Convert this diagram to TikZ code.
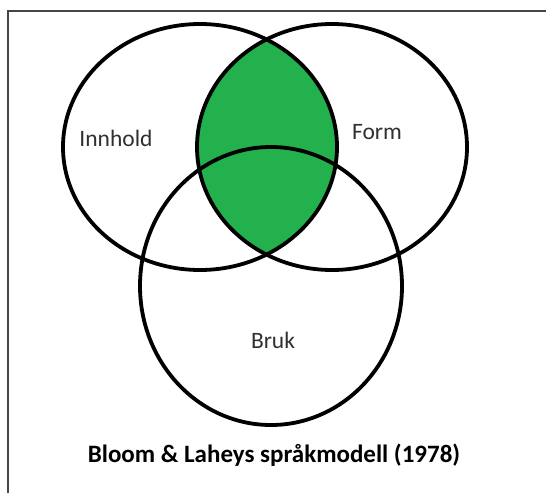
\documentclass[tikz,border=0pt]{standalone}
\usepackage{fontspec}
\setmainfont{Carlito}
\definecolor{paintgreen}{HTML}{22B14C}
\definecolor{framegray}{HTML}{464646}
\definecolor{labelgray}{HTML}{303030}
\begin{document}
\begin{tikzpicture}[x=1pt,y=-1pt,
  ring/.style={draw=black,line width=3.8pt},
  lbl/.style={text=labelgray,font=\fontsize{23.5}{28}\selectfont,inner sep=0pt},
  ttl/.style={text=black,font=\bfseries\fontsize{25}{30}\selectfont,inner sep=0pt}]
\useasboundingbox (0,0) rectangle (546,493);
\fill[white] (0,0) rectangle (546,493);
\draw[framegray,line width=2pt] (8,493) -- (8,11) -- (546,11);
% green intersection
\begin{scope}
  \clip (200,147) ellipse [x radius=137,y radius=123];
  \fill[paintgreen] (332,147) ellipse [x radius=135,y radius=123];
\end{scope}
\draw[ring] (200,147) ellipse [x radius=137,y radius=123];
\draw[ring] (332,147) ellipse [x radius=135,y radius=123];
\draw[ring] (271,286) ellipse [x radius=131,y radius=139];
\node[lbl] (innhold) at (116,138) {Innhold};
\node[lbl] (form) at (377,132) {Form};
\node[lbl] (bruk) at (273,340) {Bruk};
\node[ttl] (title) at (274,455) {Bloom \& Laheys språkmodell (1978)};
\end{tikzpicture}
\end{document}
